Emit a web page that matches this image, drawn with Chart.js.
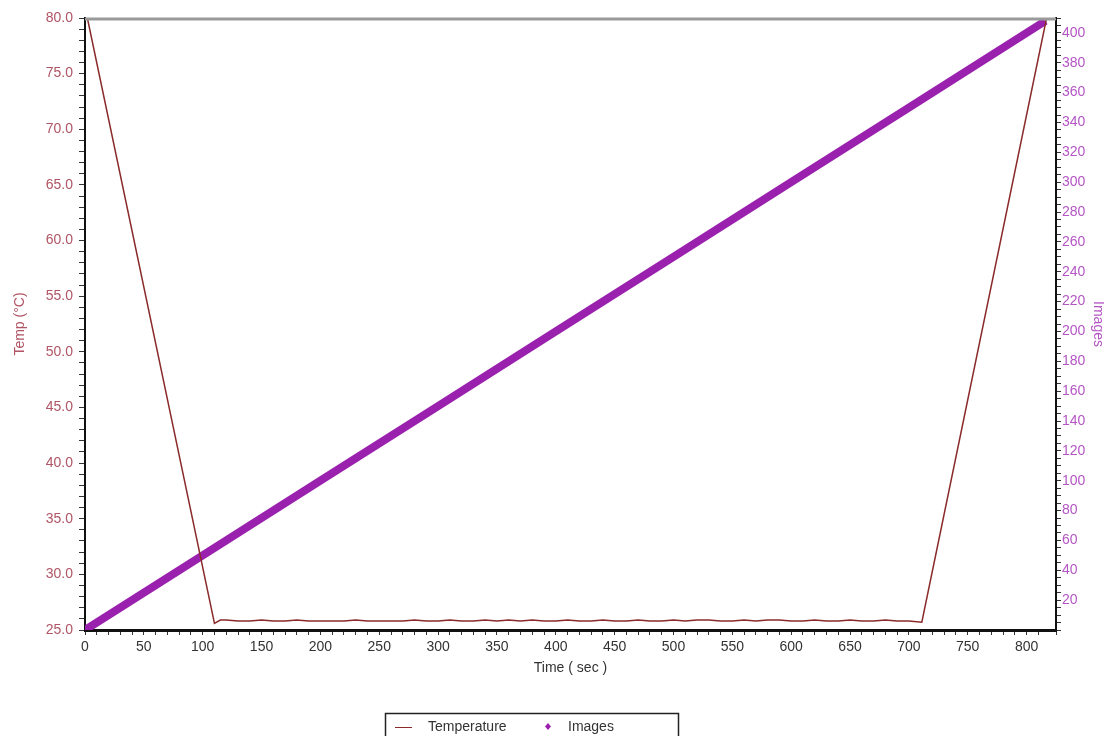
<!DOCTYPE html>
<html>
<head>
<meta charset="utf-8">
<script src="https://cdn.jsdelivr.net/npm/chart.js@4/dist/chart.umd.min.js"></script>
<style>
  html, body { margin: 0; padding: 0; background: #fff; }
  #wrap { width: 1115px; height: 736px; }
</style>
</head>
<body>
<div id="wrap"><canvas id="myChart" width="1115" height="736"></canvas></div>
<script>
// temperature curve (sec, °C)
const tempTime = [2, 110, 115,
  120, 130, 140, 150, 160, 170, 180, 190, 200, 210,
  220, 230, 240, 250, 260, 270, 280, 290, 300, 310,
  320, 330, 340, 350, 360, 370, 380, 390, 400, 410,
  420, 430, 440, 450, 460, 470, 480, 490, 500, 510,
  520, 530, 540, 550, 560, 570, 580, 590, 600, 610,
  620, 630, 640, 650, 660, 670, 680, 690, 700,
  711, 817];
const tempValue = [80.0, 25.6, 25.9,
  25.9, 25.8, 25.8, 25.9, 25.8, 25.8, 25.9, 25.8, 25.8, 25.8,
  25.8, 25.9, 25.8, 25.8, 25.8, 25.8, 25.9, 25.8, 25.8, 25.9,
  25.8, 25.8, 25.9, 25.8, 25.9, 25.8, 25.9, 25.8, 25.8, 25.9,
  25.8, 25.8, 25.9, 25.8, 25.8, 25.9, 25.8, 25.8, 25.9, 25.8,
  25.9, 25.9, 25.8, 25.8, 25.9, 25.8, 25.9, 25.9, 25.8, 25.8,
  25.9, 25.8, 25.8, 25.9, 25.8, 25.8, 25.9, 25.8, 25.8,
  25.7, 80.0];

// image counter (sec, images)
const imgTime = [0, 100, 200, 300, 400, 500, 600, 700, 816];
const imgCount = [0, 50, 100, 150, 200, 250, 300, 350, 408];

const tempColor = '#8a2a2a';
const imgColor = '#9a20ae';

const zip = (xs, ys) => xs.map((x, i) => ({ x, y: ys[i] }));

// grey line on top + boxed legend under the chart
const framePlugin = {
  id: 'frame',
  afterDatasetsDraw(chart) {
    const { ctx, chartArea } = chart;
    ctx.save();
    ctx.strokeStyle = '#9a9a9a';
    ctx.lineWidth = 3;
    ctx.beginPath();
    ctx.moveTo(chartArea.left, chartArea.top + 1);
    ctx.lineTo(chartArea.right, chartArea.top + 1);
    ctx.stroke();
    ctx.restore();
  },
  afterDraw(chart) {
    const { ctx } = chart;
    const ds = chart.data.datasets;
    ctx.save();
    ctx.strokeStyle = '#222';
    ctx.lineWidth = 1.5;
    ctx.strokeRect(385.5, 713.5, 293, 30);
    ctx.font = '14px "Liberation Sans", Arial, sans-serif';
    ctx.textBaseline = 'middle';
    ctx.fillStyle = '#333';
    // temperature entry
    ctx.strokeStyle = ds[0].borderColor;
    ctx.lineWidth = 1;
    ctx.beginPath();
    ctx.moveTo(395, 727.5);
    ctx.lineTo(412, 727.5);
    ctx.stroke();
    ctx.fillText(ds[0].label, 428, 727);
    // images entry
    ctx.fillStyle = ds[1].borderColor;
    ctx.beginPath();
    ctx.moveTo(548, 723);
    ctx.lineTo(551, 726.5);
    ctx.lineTo(548, 730);
    ctx.lineTo(545, 726.5);
    ctx.closePath();
    ctx.fill();
    ctx.fillStyle = '#333';
    ctx.fillText(ds[1].label, 568, 727);
    ctx.restore();
  },
};

const fontTick = { family: '"Liberation Sans", Arial, sans-serif', size: 14 };

const chartConfig = {
  type: 'scatter',
  data: {
    datasets: [
      {
        label: 'Temperature',
        data: zip(tempTime, tempValue),
        showLine: true,
        borderColor: tempColor,
        borderWidth: 1.5,
        pointRadius: 0,
        yAxisID: 'yTemp',
      },
      {
        label: 'Images',
        data: zip(imgTime, imgCount),
        showLine: true,
        borderColor: imgColor,
        borderWidth: 8,
        pointRadius: 0,
        yAxisID: 'yImg',
      },
    ],
  },
  options: {
    responsive: false,
    animation: false,
    layout: { padding: { top: 18, bottom: 46, left: 0, right: 0 } },
    plugins: { legend: { display: false }, tooltip: { enabled: false } },
    scales: {
      x: {
        type: 'linear',
        position: 'bottom',
        min: 0,
        max: 825,
        afterFit: (s) => { s.height = 60; },
        border: { color: '#111', width: 3 },
        grid: { drawOnChartArea: false, color: '#333', tickLength: 5 },
        ticks: {
          stepSize: 10,
          autoSkip: false,
          maxRotation: 0,
          padding: 4,
          color: '#333',
          font: fontTick,
          callback: (v) => (v % 50 === 0 ? String(v) : ''),
        },
        title: {
          display: true,
          text: 'Time ( sec )',
          color: '#333',
          font: fontTick,
          padding: { top: 0, bottom: 13 },
        },
      },
      yTemp: {
        type: 'linear',
        position: 'left',
        min: 25,
        max: 80,
        afterFit: (s) => { s.width = 85; },
        border: { color: '#111', width: 2 },
        grid: { drawOnChartArea: false, color: '#333', tickLength: 6 },
        ticks: {
          stepSize: 1,
          autoSkip: false,
          padding: 6,
          color: '#b05565',
          font: fontTick,
          callback: (v) => (v % 5 === 0 ? v.toFixed(1) : ''),
        },
        title: {
          display: true,
          text: 'Temp (°C)',
          color: '#b05565',
          font: fontTick,
          padding: { top: 12, bottom: 0 },
        },
      },
      yImg: {
        type: 'linear',
        position: 'right',
        min: 0,
        max: 410,
        afterFit: (s) => { s.width = 59; },
        border: { color: '#111', width: 2 },
        grid: { drawOnChartArea: false, color: '#333', tickLength: 5 },
        ticks: {
          stepSize: 5,
          autoSkip: false,
          padding: 1,
          color: '#b455c4',
          font: fontTick,
          callback: (v) => (v % 20 === 0 && v > 0 ? String(v) : ''),
        },
        title: {
          display: true,
          text: 'Images',
          color: '#b455c4',
          font: fontTick,
          padding: { top: 9, bottom: 0 },
        },
      },
    },
  },
  plugins: [framePlugin],
};

const ctx = document.getElementById('myChart').getContext('2d');
const chart = new Chart(ctx, chartConfig);
</script>
</body>
</html>
